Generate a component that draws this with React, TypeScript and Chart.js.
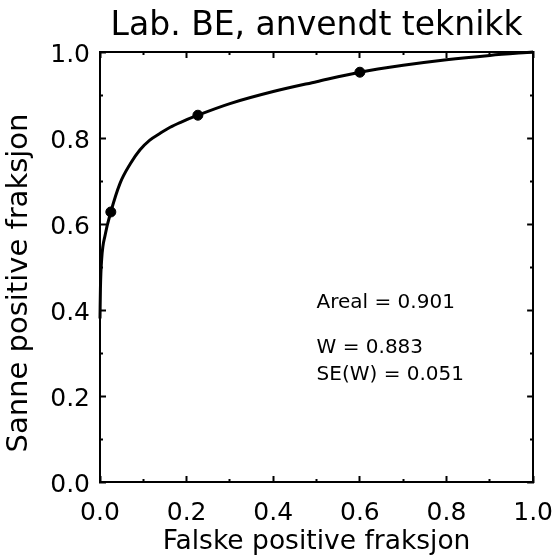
import { useEffect, useRef } from 'react';
import { Chart, registerables } from 'chart.js';

Chart.register(...registerables);

// Fitted ROC curve (false positive fraction -> true positive fraction)
const curveFpf = [0, 0.001, 0.004, 0.012, 0.025, 0.046, 0.07, 0.092, 0.115, 0.139, 0.162, 0.185, 0.226, 0.3, 0.4, 0.5, 0.6, 0.7, 0.8, 0.9, 1];
const curveTpf = [0.38, 0.45, 0.52, 0.575, 0.628, 0.694, 0.74, 0.772, 0.795, 0.811, 0.825, 0.836, 0.853, 0.88, 0.908, 0.931, 0.953, 0.969, 0.982, 0.992, 1];

// Observed operating points
const pointFpf = [0.025, 0.226, 0.6];
const pointTpf = [0.628, 0.853, 0.953];

const tickLabels = ['0.0', '0.2', '0.4', '0.6', '0.8', '1.0'];
const statsLines = ['Areal = 0.901', 'W = 0.883', 'SE(W) = 0.051'];
const yTitle = 'Sanne positive fraksjon';

const FONT = "'DejaVu Sans', sans-serif";

const isMajor = (v: number) => Math.round(v * 10) % 2 === 0;

const labelFor = (v: number) => {
  const i = Math.round(v * 5);
  return Math.abs(v - i * 0.2) < 1e-6 ? tickLabels[i] : '';
};

// Inward tick marks; minor (0.1) ticks are shortened with a dash pattern.
// startsAtAxis: true for bottom/right axes where the tick path begins at the border.
const gridFor = (startsAtAxis: boolean) => ({
  drawOnChartArea: false,
  drawTicks: true,
  tickLength: -6,
  tickWidth: 2,
  tickColor: '#000',
  tickBorderDash: (ctx: any) =>
    isMajor(ctx.tick.value) ? [] : startsAtAxis ? [4, 100] : [0, 3, 100, 0],
});

const border = { display: true, color: '#000', width: 2 };

// Statistics block inside the plot and the vertical axis title
const textPlugin = {
  id: 'rocText',
  afterDraw(chart: any) {
    const { ctx, scales } = chart;
    const x = scales.x.getPixelForValue(0.5);
    const rows = [0.417, 0.312, 0.249];
    ctx.save();
    ctx.fillStyle = '#000';
    ctx.font = `20px ${FONT}`;
    ctx.textAlign = 'left';
    ctx.textBaseline = 'middle';
    statsLines.forEach((t, i) => ctx.fillText(t, x, scales.y.getPixelForValue(rows[i])));

    ctx.font = `29px ${FONT}`;
    ctx.textAlign = 'center';
    ctx.translate(19, scales.y.getPixelForValue(0.5) + 16);
    ctx.rotate(-Math.PI / 2);
    ctx.fillText(yTitle, 0, 0);
    ctx.restore();
  },
};

export default function App() {
  const ref = useRef<HTMLCanvasElement>(null);

  useEffect(() => {
    if (!ref.current) return;
    const chart = new Chart(ref.current, {
      type: 'scatter',
      data: {
        datasets: [
          {
            type: 'line',
            data: curveFpf.map((x, i) => ({ x, y: curveTpf[i] })),
            borderColor: '#000',
            borderWidth: 3,
            pointRadius: 0,
            fill: false,
            cubicInterpolationMode: 'monotone',
            clip: false as any,
          },
          {
            type: 'scatter',
            data: pointFpf.map((x, i) => ({ x, y: pointTpf[i] })),
            backgroundColor: '#000',
            borderColor: '#000',
            pointRadius: 5,
            pointHoverRadius: 5,
          },
        ],
      },
      options: {
        animation: false,
        responsive: true,
        maintainAspectRatio: false,
        devicePixelRatio: 1,
        events: [],
        layout: { padding: { left: 0, right: 0, top: 0, bottom: 0 } },
        plugins: {
          legend: { display: false },
          tooltip: { enabled: false },
          title: {
            display: true,
            text: 'Lab. BE, anvendt teknikk',
            fullSize: false,
            color: '#000',
            font: { family: FONT, size: 33, weight: 'normal' },
            padding: { top: 7, bottom: 5.4 },
          },
        },
        scales: {
          x: {
            type: 'linear',
            position: 'bottom',
            min: 0,
            max: 1,
            grid: gridFor(true),
            border,
            ticks: {
              stepSize: 0.1,
              autoSkip: false,
              maxRotation: 0,
              minRotation: 0,
              padding: 3,
              color: '#000',
              // tall line box pushes the labels down below the axis
              font: { family: FONT, size: 25, lineHeight: 2.72 },
              callback: (v: any) => labelFor(Number(v)),
            },
            title: {
              display: true,
              text: 'Falske positive fraksjon',
              color: '#000',
              font: { family: FONT, size: 26.5 },
              padding: { top: 0, bottom: 1 },
            },
            afterFit: (s: any) => { s.height = 77; },
          },
          y: {
            type: 'linear',
            position: 'left',
            min: 0,
            max: 1,
            grid: gridFor(false),
            border,
            ticks: {
              stepSize: 0.1,
              autoSkip: false,
              padding: 16,
              labelOffset: 3,
              color: '#000',
              font: { family: FONT, size: 25 },
              callback: (v: any) => labelFor(Number(v)),
            },
            afterFit: (s: any) => { s.width = 100; },
          },
          x2: {
            type: 'linear',
            position: 'top',
            min: 0,
            max: 1,
            grid: gridFor(false),
            border,
            ticks: { stepSize: 0.1, autoSkip: false, display: false },
            afterFit: (s: any) => { s.height = 0; },
          },
          y2: {
            type: 'linear',
            position: 'right',
            min: 0,
            max: 1,
            grid: gridFor(true),
            border,
            ticks: { stepSize: 0.1, autoSkip: false, display: false },
            afterFit: (s: any) => { s.width = 0; },
          },
        },
      } as any,
      plugins: [textPlugin],
    });
    return () => chart.destroy();
  }, []);

  return (
    <div style={{ position: 'fixed', left: 0, top: 0, width: 556, height: 559, background: '#fff' }}>
      <canvas ref={ref} />
    </div>
  );
}
